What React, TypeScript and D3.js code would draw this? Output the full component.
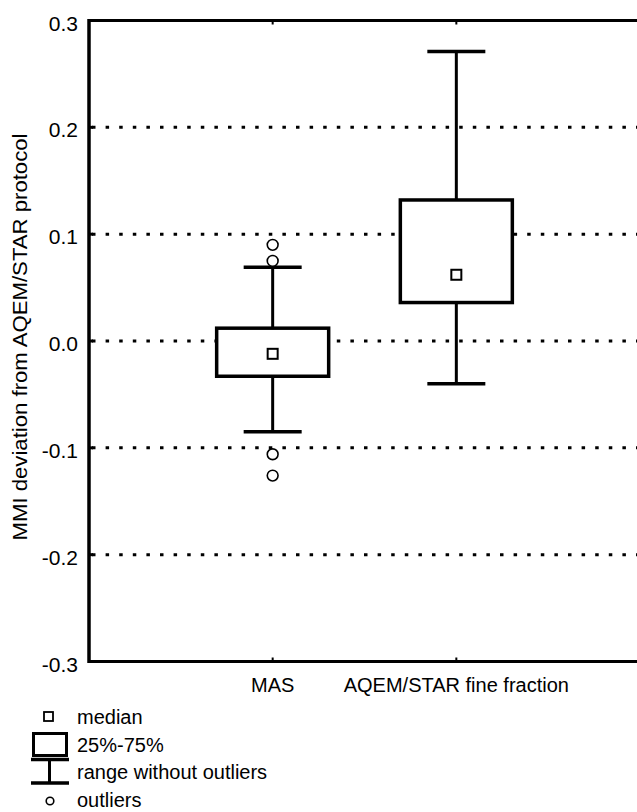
import React from "react";
import * as d3 from "d3";

// Box-plot summaries per sampling method
const categories = ["MAS", "AQEM/STAR fine fraction"];
const q1 = [-0.033, 0.036];
const q3 = [0.012, 0.132];
const medians = [-0.012, 0.062];
const whiskerLow = [-0.085, -0.04];
const whiskerHigh = [0.069, 0.271];
const outliers: number[][] = [[0.09, 0.075, -0.106, -0.126], []];

const yTicks = [0.3, 0.2, 0.1, 0.0, -0.1, -0.2, -0.3];
const gridValues = [0.2, 0.1, 0.0, -0.1, -0.2];

const legendItems = ["median", "25%-75%", "range without outliers", "outliers"];

const W = 637;
const H = 812;
const left = 89;
const right = 640;
const top = 20.5;
const bottom = 661.5;
const FONT = "'Liberation Sans', Arial, Helvetica, sans-serif";

// one decimal, plain hyphen for negatives
const fmt = (v: number) => d3.format(".1f")(v).replace("\u2212", "-");

export default function App() {
  const y = d3.scaleLinear().domain([-0.3, 0.3]).range([bottom, top]);
  const x = d3.scalePoint<string>().domain(categories).range([left, right]).padding(1);
  const boxW = 112;
  const capW = 58;
  const medS = 10;

  return (
    <svg
      width={W}
      height={H}
      style={{ position: "absolute", left: 0, top: 0, background: "#fff" }}
      fontFamily={FONT}
    >
      <rect x={0} y={0} width={W} height={H} fill="#fff" />

      {/* dotted horizontal grid */}
      {gridValues.map((v) => (
        <line
          key={"g" + v}
          x1={left + 3}
          x2={W}
          y1={y(v)}
          y2={y(v)}
          stroke="#000"
          strokeWidth={3}
          strokeDasharray="3.5 10.1"
        />
      ))}

      {/* frame: left axis, top and bottom lines */}
      <line x1={left} x2={left} y1={top - 1.5} y2={bottom + 1.5} stroke="#000" strokeWidth={3.5} />
      <line x1={left} x2={W} y1={top} y2={top} stroke="#000" strokeWidth={3} />
      <line x1={left} x2={W} y1={bottom} y2={bottom} stroke="#000" strokeWidth={3} />

      {/* y tick marks and labels */}
      {yTicks.map((v) => (
        <g key={"t" + v}>
          <line x1={left} x2={left + 4} y1={y(v)} y2={y(v)} stroke="#000" strokeWidth={3} />
          <text
            x={78}
            y={y(v)}
            dy="0.48em"
            textAnchor="end"
            fontSize={21}
            fill="#000"
          >
            {fmt(v)}
          </text>
        </g>
      ))}

      {/* x tick marks and labels */}
      {categories.map((c) => (
        <g key={"x" + c}>
          <line x1={x(c)} x2={x(c)} y1={top} y2={top + 4} stroke="#000" strokeWidth={2} />
          <line x1={x(c)} x2={x(c)} y1={bottom} y2={bottom - 4} stroke="#000" strokeWidth={2} />
          <text x={x(c)} y={692} textAnchor="middle" fontSize={20} fill="#000">
            {c}
          </text>
        </g>
      ))}

      {/* y axis title */}
      <text
        transform={`translate(27,${(top + bottom) / 2 - 4}) rotate(-90)`}
        textAnchor="middle"
        fontSize={20}
        textLength={407}
        lengthAdjust="spacingAndGlyphs"
        fill="#000"
      >
        MMI deviation from AQEM/STAR protocol
      </text>

      {/* boxes */}
      {categories.map((c, i) => {
        const cx = x(c) as number;
        return (
          <g key={"b" + c}>
            <line x1={cx} x2={cx} y1={y(whiskerHigh[i])} y2={y(whiskerLow[i])} stroke="#000" strokeWidth={3} />
            <line x1={cx - capW / 2} x2={cx + capW / 2} y1={y(whiskerHigh[i])} y2={y(whiskerHigh[i])} stroke="#000" strokeWidth={3.5} />
            <line x1={cx - capW / 2} x2={cx + capW / 2} y1={y(whiskerLow[i])} y2={y(whiskerLow[i])} stroke="#000" strokeWidth={3.5} />
            <rect
              x={cx - boxW / 2}
              y={y(q3[i])}
              width={boxW}
              height={y(q1[i]) - y(q3[i])}
              fill="#fff"
              stroke="#000"
              strokeWidth={3.5}
            />
            <rect
              x={cx - medS / 2}
              y={y(medians[i]) - medS / 2}
              width={medS}
              height={medS}
              fill="#fff"
              stroke="#000"
              strokeWidth={2}
            />
            {outliers[i].map((o, k) => (
              <circle key={k} cx={cx} cy={y(o)} r={5.4} fill="#fff" stroke="#000" strokeWidth={1.6} />
            ))}
          </g>
        );
      })}

      {/* legend */}
      <g>
        <rect x={44} y={712} width={9} height={9} fill="#fff" stroke="#000" strokeWidth={1.8} />
        <rect x={33.5} y={733.5} width={33} height={22} fill="#fff" stroke="#000" strokeWidth={3} />
        <line x1={31} x2={69} y1={759.5} y2={759.5} stroke="#000" strokeWidth={3.5} />
        <line x1={49.5} x2={49.5} y1={759.5} y2={783} stroke="#000" strokeWidth={3} />
        <line x1={31} x2={69} y1={783} y2={783} stroke="#000" strokeWidth={3.5} />
        <circle cx={50} cy={801} r={3.8} fill="#fff" stroke="#000" strokeWidth={1.6} />
        {legendItems.map((t, i) => (
          <text key={t} x={77} y={724 + i * 27.7} fontSize={20} fill="#000">
            {t}
          </text>
        ))}
      </g>
    </svg>
  );
}
